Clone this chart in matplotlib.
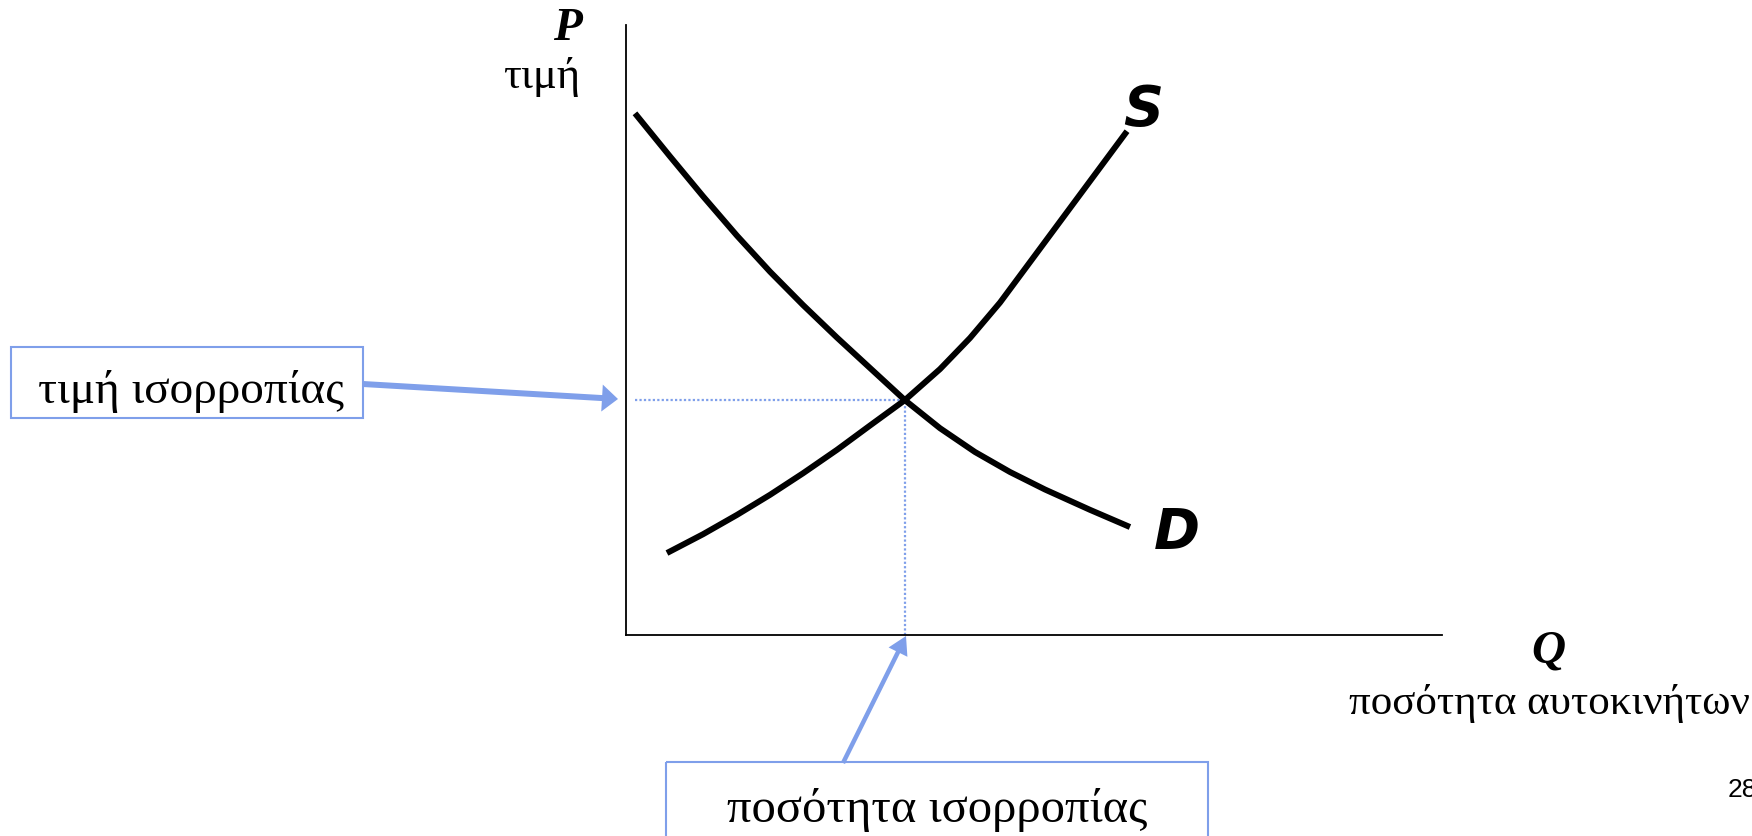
import matplotlib
matplotlib.use("Agg")
import matplotlib.pyplot as plt
from matplotlib.patches import Rectangle, FancyArrow

# ---- data ----
demand_q = [0.110, 0.539, 0.944, 1.360, 1.765, 2.169, 2.586, 2.990, 3.419,
            3.848, 4.277, 4.706, 5.135, 5.686, 6.176]
demand_p = [8.552, 7.846, 7.192, 6.546, 5.956, 5.410, 4.875, 4.377, 3.849,
            3.390, 3.000, 2.672, 2.385, 2.052, 1.770]
supply_q = [0.502, 0.944, 1.360, 1.765, 2.169, 2.586, 2.990, 3.419, 3.848,
            4.216, 4.583, 5.012, 5.441, 5.809, 6.140]
supply_p = [1.344, 1.652, 1.969, 2.298, 2.651, 3.036, 3.434, 3.852, 4.359,
            4.869, 5.449, 6.223, 6.998, 7.662, 8.259]
eq_q = 3.42
eq_p = 3.85
guide_start_q = 0.11

p_symbol = "P"
p_label = "τιμή"
q_symbol = "Q"
q_label = "ποσότητα αυτοκινήτων"
supply_label = "S"
demand_label = "D"
price_box_label = "τιμή ισορροπίας"
qty_box_label = "ποσότητα ισορροπίας"
page_number = "28"

BLUE = "#7F9FEA"
W, H = 1752, 836

fig = plt.figure(figsize=(W / 100, H / 100), dpi=100)
fig.patch.set_facecolor("white")

# main diagram axes (positioned to match the reference axis lines)
ax_left, ax_right, ax_top, ax_bottom = 626, 1442, 25, 635
ax = fig.add_axes([ax_left / W, (H - ax_bottom) / H,
                   (ax_right - ax_left) / W, (ax_bottom - ax_top) / H])
ax.set_xlim(0, 10)
ax.set_ylim(0, 10)
ax.patch.set_visible(False)
for s in ("top", "right"):
    ax.spines[s].set_visible(False)
for s in ("left", "bottom"):
    ax.spines[s].set_linewidth(1.3)
    ax.spines[s].set_color("black")
ax.set_xticks([])
ax.set_yticks([])

ax.plot(demand_q, demand_p, color="black", lw=4.3, solid_capstyle="butt",
        solid_joinstyle="round", zorder=3)
ax.plot(supply_q, supply_p, color="black", lw=4.3, solid_capstyle="butt",
        solid_joinstyle="round", zorder=3)
ax.plot([guide_start_q, eq_q], [eq_p, eq_p], color=BLUE, lw=1.6,
        ls=(0, (1, 1)), zorder=2)
ax.plot([eq_q, eq_q], [0, eq_p], color=BLUE, lw=1.6, ls=(0, (1, 1)), zorder=2)

# overlay axes in pixel coordinates for the annotations
ov = fig.add_axes([0, 0, 1, 1], zorder=5)
ov.set_xlim(0, W)
ov.set_ylim(H, 0)
ov.axis("off")
ov.patch.set_visible(False)

serif = ["Liberation Serif", "DejaVu Serif"]
sans = ["DejaVu Sans"]

ov.text(567, 40, p_symbol, family=serif, fontsize=34, fontweight="bold",
        fontstyle="italic", ha="center", va="baseline")
ov.text(580, 88, p_label, family=serif, fontsize=32, ha="right", va="baseline")

ov.text(1548, 663, q_symbol, family=serif, fontsize=34, fontweight="bold",
        fontstyle="italic", ha="center", va="baseline")
ov.text(1549, 714, q_label, family=serif, fontsize=31, ha="center", va="baseline")

ov.text(1143, 125, supply_label, family=sans, fontsize=40, fontweight="bold",
        fontstyle="italic", ha="center", va="baseline")
ov.text(1177, 548, demand_label, family=sans, fontsize=40, fontweight="bold",
        fontstyle="italic", ha="center", va="baseline")

ov.text(1728, 797, page_number, family=["Liberation Sans"], fontsize=19,
        ha="left", va="baseline")

# price box + arrow
ov.add_patch(Rectangle((11, 347), 352, 71, fill=False, edgecolor=BLUE, lw=1.5))
ov.text(344, 403, price_box_label, family=serif, fontsize=34, ha="right",
        va="baseline")
ov.add_patch(FancyArrow(363, 384, 618 - 363, 399 - 384, width=6, head_width=27,
                        head_length=16, length_includes_head=True,
                        color=BLUE, lw=0))

# quantity box + arrow
ov.add_patch(Rectangle((666, 762), 542, 120, fill=False, edgecolor=BLUE, lw=1.5,
                       clip_on=False))
ov.text(937, 822, qty_box_label, family=serif, fontsize=35, ha="center",
        va="baseline")
ov.add_patch(FancyArrow(843, 763, 906 - 843, 636 - 763, width=4.5, head_width=21,
                        head_length=18, length_includes_head=True,
                        color=BLUE, lw=0))

fig.savefig("out.png", dpi=100, facecolor="white")
